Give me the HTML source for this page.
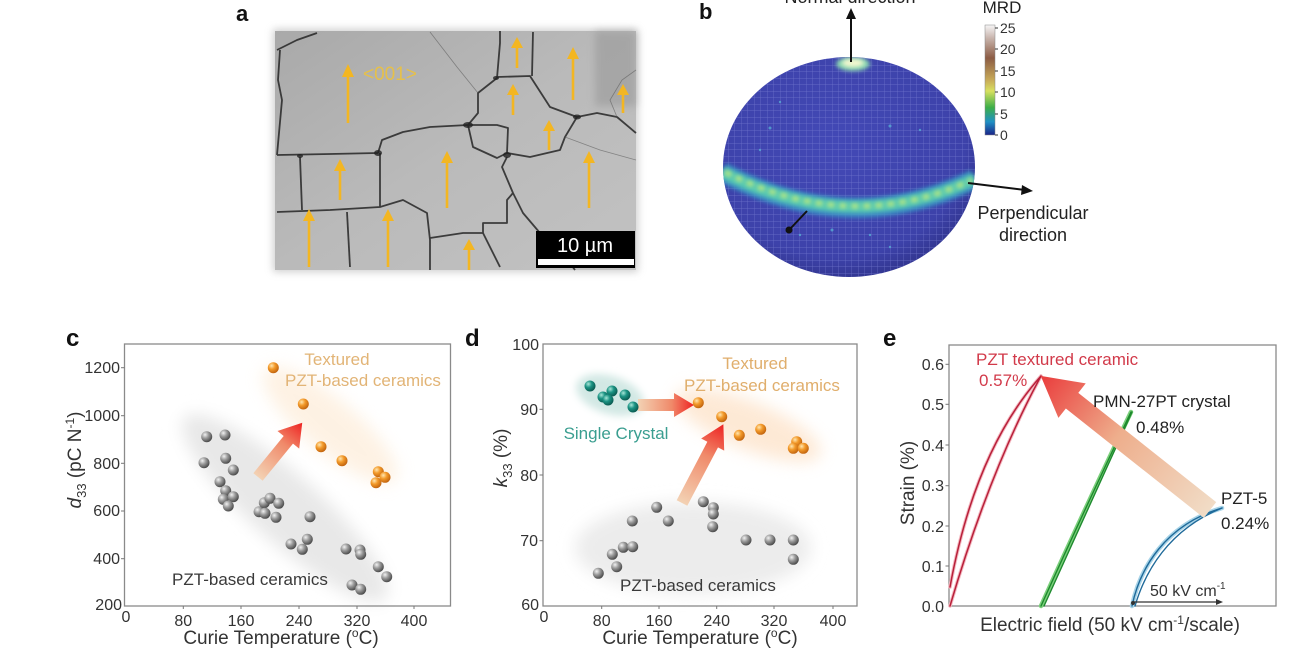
<!DOCTYPE html>
<html><head><meta charset="utf-8">
<style>
html,body{margin:0;padding:0;background:#fff;}
svg{display:block;}
text{font-family:"Liberation Sans",Arial,sans-serif;}
</style></head>
<body>
<svg width="1301" height="651" viewBox="0 0 1301 651" xmlns="http://www.w3.org/2000/svg">
<defs>
  <radialGradient id="gball" cx="35%" cy="32%" r="70%">
    <stop offset="0" stop-color="#f2f2f2"/><stop offset="0.45" stop-color="#9c9c9c"/><stop offset="1" stop-color="#4a4a4a"/>
  </radialGradient>
  <radialGradient id="oball" cx="35%" cy="32%" r="70%">
    <stop offset="0" stop-color="#ffe6b0"/><stop offset="0.45" stop-color="#f39a2a"/><stop offset="1" stop-color="#c2640e"/>
  </radialGradient>
  <radialGradient id="tball" cx="35%" cy="32%" r="70%">
    <stop offset="0" stop-color="#a8e6d8"/><stop offset="0.45" stop-color="#1c9484"/><stop offset="1" stop-color="#0a5a50"/>
  </radialGradient>
  <linearGradient id="arr" x1="0" y1="0" x2="1" y2="0">
    <stop offset="0" stop-color="#f3d2b4"/><stop offset="0.6" stop-color="#f08a6a"/><stop offset="1" stop-color="#ee2222"/>
  </linearGradient>
  <linearGradient id="arrE" x1="0" y1="0" x2="1" y2="0">
    <stop offset="0" stop-color="#f1dcc6"/><stop offset="0.55" stop-color="#eeae8c"/><stop offset="1" stop-color="#ea3c3c"/>
  </linearGradient>
  <linearGradient id="sem" x1="0" y1="0" x2="1" y2="1">
    <stop offset="0" stop-color="#a9a9a9"/><stop offset="0.5" stop-color="#bababa"/><stop offset="1" stop-color="#c2c2c2"/>
  </linearGradient>
  <radialGradient id="sph" cx="45%" cy="40%" r="60%">
    <stop offset="0" stop-color="#4349b6"/><stop offset="0.85" stop-color="#3d42aa"/><stop offset="1" stop-color="#343894"/>
  </radialGradient>
  <linearGradient id="cbar" x1="0" y1="0" x2="0" y2="1">
    <stop offset="0" stop-color="#f6f6f6"/><stop offset="0.12" stop-color="#c8b4ac"/><stop offset="0.3" stop-color="#8c5c44"/>
    <stop offset="0.5" stop-color="#c8aa58"/><stop offset="0.6" stop-color="#d8e060"/><stop offset="0.75" stop-color="#3cae48"/>
    <stop offset="0.88" stop-color="#2090c4"/><stop offset="1" stop-color="#1a2488"/>
  </linearGradient>
  <pattern id="grid" width="6.5" height="6.5" patternUnits="userSpaceOnUse">
    <path d="M0 0H6.5M0 0V6.5" stroke="#7a80d4" stroke-width="0.7" opacity="0.8"/>
  </pattern>
  <clipPath id="sclip"><ellipse cx="849" cy="167" rx="126" ry="110"/></clipPath>
  <filter id="blur8" x="-50%" y="-50%" width="200%" height="200%"><feGaussianBlur stdDeviation="8"/></filter>
  <filter id="blur4" x="-50%" y="-50%" width="200%" height="200%"><feGaussianBlur stdDeviation="4"/></filter>
  <filter id="blur2" x="-50%" y="-50%" width="200%" height="200%"><feGaussianBlur stdDeviation="2"/></filter>
  <filter id="shadow" x="-10%" y="-10%" width="120%" height="120%"><feGaussianBlur stdDeviation="4"/></filter>
</defs>
<rect width="1301" height="651" fill="#fff"/>

<!-- ============ Panel a ============ -->
<text x="236" y="21" font-size="22" font-weight="bold" fill="#111">a</text>
<rect x="273" y="29" width="365" height="243" fill="#bbb" filter="url(#shadow)" opacity="0.7"/>
<rect x="275" y="31" width="361" height="239" fill="url(#sem)"/>
<rect x="595" y="31" width="41" height="75" fill="#929292" opacity="0.5" filter="url(#blur4)"/>
<g fill="none" stroke="#262626" stroke-width="1.8" stroke-linejoin="round" opacity="0.85">
  <path d="M277,155 L330,154 L378,153"/>
  <path d="M378,153 L382,140 L403,132 L430,127 L468,125"/>
  <path d="M468,125 L478,113 L478,93 L497,78 L500,43 L500,31"/>
  <path d="M497,77 L530,76 L550,107 L577,117 L597,113 L617,117 L636,133"/>
  <path d="M532,76 L533,32"/>
  <path d="M468,125 L473,147 L497,158 L507,153 L508,128 L497,125 Z"/>
  <path d="M507,153 L530,157 L560,150 L565,137 L577,117"/>
  <path d="M507,157 L502,167 L513,193 L523,213 L540,233"/>
  <path d="M277,212 L330,210 L380,207 L403,200 L427,213 L430,240 L430,270"/>
  <path d="M300,157 L302,210"/>
  <path d="M380,153 L380,207"/>
  <path d="M347,212 L350,267"/>
  <path d="M430,238 L463,233 L483,233 L483,223 L507,223 L507,200 L513,193"/>
  <path d="M483,233 L500,267"/>
  <path d="M280,50 L278,80 L282,100 L277,155"/>
  <path d="M277,50 L297,40 L317,33"/>
  <path d="M540,233 L560,250 L575,270"/>
</g>
<g fill="none" stroke="#5a5a5a" stroke-width="0.8" opacity="0.6">
  <path d="M430,32 L457,67 L478,93"/>
  <path d="M617,117 L610,100 L622,80 L636,70"/>
  <path d="M565,137 L600,150 L636,160"/>
</g>
<g fill="#222" opacity="0.8">
  <ellipse cx="468" cy="125" rx="5" ry="3"/><ellipse cx="378" cy="153" rx="4" ry="3"/>
  <ellipse cx="507" cy="155" rx="4" ry="3"/><ellipse cx="577" cy="117" rx="4" ry="2.5"/>
  <ellipse cx="300" cy="156" rx="3" ry="2"/><ellipse cx="496" cy="78" rx="3" ry="2"/>
</g>
<g stroke="#f3b622" stroke-width="2.6" fill="#f3b622">
  <line x1="348" y1="76" x2="348" y2="123"/><polygon stroke="none" points="348,64 342,77 354,77"/>
  <line x1="517" y1="46" x2="517" y2="68"/><polygon stroke="none" points="517,37 511,48 523,48"/>
  <line x1="573" y1="58" x2="573" y2="100"/><polygon stroke="none" points="573,47 567,59 579,59"/>
  <line x1="513" y1="93" x2="513" y2="115"/><polygon stroke="none" points="513,84 507,95 519,95"/>
  <line x1="623" y1="93" x2="623" y2="113"/><polygon stroke="none" points="623,84 617,95 629,95"/>
  <line x1="549" y1="129" x2="549" y2="150"/><polygon stroke="none" points="549,120 543,131 555,131"/>
  <line x1="447" y1="162" x2="447" y2="208"/><polygon stroke="none" points="447,151 441,163 453,163"/>
  <line x1="589" y1="162" x2="589" y2="208"/><polygon stroke="none" points="589,151 583,163 595,163"/>
  <line x1="340" y1="170" x2="340" y2="200"/><polygon stroke="none" points="340,159 334,171 346,171"/>
  <line x1="309" y1="219" x2="309" y2="267"/><polygon stroke="none" points="309,209 303,221 315,221"/>
  <line x1="388" y1="219" x2="388" y2="267"/><polygon stroke="none" points="388,209 382,221 394,221"/>
  <line x1="469" y1="248" x2="469" y2="270"/><polygon stroke="none" points="469,239 463,250 475,250"/>
</g>
<text x="363" y="80" font-size="19" fill="#e6c04a">&lt;001&gt;</text>
<rect x="536" y="231" width="99" height="37" fill="#000"/>
<text x="585" y="252" font-size="20" fill="#fff" text-anchor="middle">10 µm</text>
<rect x="538" y="259" width="96" height="6" fill="#fff"/>

<!-- ============ Panel b ============ -->
<text x="699" y="19" font-size="22" font-weight="bold" fill="#111">b</text>
<text x="850" y="3" font-size="18" fill="#222" text-anchor="middle">Normal direction</text>
<ellipse cx="849" cy="167" rx="126" ry="110" fill="url(#sph)"/>
<g clip-path="url(#sclip)">
  <rect x="720" y="55" width="260" height="225" fill="url(#grid)"/>
  <path d="M722,172 Q850,240 975,179" fill="none" stroke="#3a9ac8" stroke-width="20" opacity="0.8" filter="url(#blur2)"/>
  <path d="M722,172 Q850,238 975,179" fill="none" stroke="#5ad0b0" stroke-width="12" opacity="0.9" filter="url(#blur2)"/>
  <path d="M725,172 Q850,236 972,180" fill="none" stroke="#c8ec7a" stroke-width="5" opacity="0.8" stroke-dasharray="7 5" filter="url(#blur2)"/>
  <ellipse cx="853" cy="64" rx="17" ry="7" fill="#8ad8b0" filter="url(#blur2)"/>
  <ellipse cx="853" cy="63" rx="11" ry="4" fill="#f4f8d0" filter="url(#blur2)"/>
  <g fill="#5ab8d8" opacity="0.7">
    <circle cx="770" cy="128" r="1.5"/><circle cx="890" cy="126" r="1.5"/><circle cx="832" cy="230" r="1.5"/>
    <circle cx="760" cy="150" r="1.2"/><circle cx="920" cy="130" r="1.2"/><circle cx="800" cy="235" r="1.2"/>
    <circle cx="870" cy="235" r="1.2"/><circle cx="890" cy="247" r="1.2"/><circle cx="780" cy="102" r="1.2"/>
  </g>
</g>
<g stroke="#111" stroke-width="2" fill="#111">
  <line x1="851" y1="62" x2="851" y2="16"/><polygon stroke="none" points="851,8 846,19 856,19"/>
  <line x1="968" y1="183" x2="1025" y2="190"/><polygon stroke="none" points="1033,191 1022,185 1021,195"/>
  <line x1="807" y1="211" x2="790" y2="229"/><circle cx="789" cy="230" r="3.5" stroke="none"/>
</g>
<text x="1033" y="219" font-size="18" fill="#222" text-anchor="middle">Perpendicular</text>
<text x="1033" y="241" font-size="18" fill="#222" text-anchor="middle">direction</text>
<text x="1002" y="13" font-size="17" fill="#222" text-anchor="middle">MRD</text>
<rect x="985" y="25" width="10" height="110" fill="url(#cbar)" stroke="#888" stroke-width="0.5"/>
<g stroke="#333" stroke-width="1">
  <line x1="995" y1="28" x2="998" y2="28"/><line x1="995" y1="49" x2="998" y2="49"/><line x1="995" y1="71" x2="998" y2="71"/>
  <line x1="995" y1="92" x2="998" y2="92"/><line x1="995" y1="114" x2="998" y2="114"/><line x1="995" y1="135" x2="998" y2="135"/>
</g>
<g font-size="14" fill="#333">
  <text x="1000" y="33">25</text><text x="1000" y="54">20</text><text x="1000" y="76">15</text>
  <text x="1000" y="97">10</text><text x="1000" y="119">5</text><text x="1000" y="140">0</text>
</g>

<!-- ============ Panel c ============ -->
<text x="66" y="346" font-size="24" font-weight="bold" fill="#111">c</text>
<ellipse cx="285" cy="508" rx="135" ry="34" transform="rotate(42 285 508)" fill="#e8e8e8" filter="url(#blur8)"/>
<ellipse cx="330" cy="425" rx="85" ry="26" transform="rotate(40 330 425)" fill="#fde9d2" filter="url(#blur8)" opacity="0.6"/>
<rect x="124.5" y="344" width="326" height="262" fill="none" stroke="#8a8a8a" stroke-width="1.3"/>
<g stroke="#777" stroke-width="1">
  <line x1="121" y1="367.7" x2="124.5" y2="367.7"/><line x1="121" y1="415.7" x2="124.5" y2="415.7"/>
  <line x1="121" y1="463.3" x2="124.5" y2="463.3"/><line x1="121" y1="511" x2="124.5" y2="511"/>
  <line x1="121" y1="558.7" x2="124.5" y2="558.7"/>
  <line x1="183.3" y1="606" x2="183.3" y2="609"/><line x1="241" y1="606" x2="241" y2="609"/>
  <line x1="299" y1="606" x2="299" y2="609"/><line x1="357" y1="606" x2="357" y2="609"/><line x1="414" y1="606" x2="414" y2="609"/>
</g>
<g font-size="16" fill="#333" text-anchor="end">
  <text x="120" y="373">1200</text><text x="120" y="421">1000</text><text x="120" y="469">800</text>
  <text x="120" y="516">600</text><text x="120" y="564">400</text><text x="122" y="610">200</text>
</g>
<g font-size="16" fill="#333" text-anchor="middle">
  <text x="126" y="622">0</text><text x="183.3" y="626">80</text><text x="241" y="626">160</text>
  <text x="299" y="626">240</text><text x="357" y="626">320</text><text x="414" y="626">400</text>
</g>
<text x="281" y="644" font-size="19" fill="#333" text-anchor="middle">Curie Temperature (<tspan font-size="12" dy="-7">o</tspan><tspan dy="7">C)</tspan></text>
<text transform="translate(81 460) rotate(-90)" font-size="19" fill="#333" text-anchor="middle"><tspan font-style="italic">d</tspan><tspan font-size="13" dy="5">33</tspan><tspan dy="-5"> (pC N</tspan><tspan font-size="12" dy="-7">-1</tspan><tspan dy="7">)</tspan></text>
<g transform="translate(258 477) rotate(-50.8)">
  <polygon points="0,-6 48,-6 48,-14 70,0 48,14 48,6 0,6" fill="url(#arr)"/>
</g>
<g fill="url(#gball)">
  <circle cx="206.7" cy="436.7" r="5.5"/><circle cx="225" cy="435" r="5.5"/><circle cx="204" cy="462.7" r="5.5"/>
  <circle cx="225.7" cy="458.3" r="5.5"/><circle cx="233.3" cy="470" r="5.5"/><circle cx="220" cy="481.7" r="5.5"/>
  <circle cx="225.7" cy="490.7" r="5.5"/><circle cx="223.3" cy="499.3" r="5.5"/><circle cx="233.3" cy="496.7" r="5.5"/>
  <circle cx="228.3" cy="506" r="5.5"/><circle cx="259" cy="511.7" r="5.5"/><circle cx="264.3" cy="502.7" r="5.5"/>
  <circle cx="270" cy="498.3" r="5.5"/><circle cx="278.7" cy="503.3" r="5.5"/><circle cx="265" cy="513.3" r="5.5"/>
  <circle cx="276" cy="517.3" r="5.5"/><circle cx="310" cy="516.7" r="5.5"/><circle cx="291" cy="544" r="5.5"/>
  <circle cx="302.3" cy="549.3" r="5.5"/><circle cx="307.3" cy="539.3" r="5.5"/><circle cx="346" cy="549" r="5.5"/>
  <circle cx="360" cy="550" r="5.5"/><circle cx="360.7" cy="554.3" r="5.5"/><circle cx="378.3" cy="566.7" r="5.5"/>
  <circle cx="386.7" cy="576.7" r="5.5"/><circle cx="352" cy="585" r="5.5"/><circle cx="360.7" cy="589.3" r="5.5"/>
</g>
<g fill="url(#oball)">
  <circle cx="273.3" cy="367.7" r="5.5"/><circle cx="303.3" cy="404" r="5.5"/><circle cx="321" cy="446.7" r="5.5"/>
  <circle cx="342" cy="460.7" r="5.5"/><circle cx="378.3" cy="471.7" r="5.5"/><circle cx="376" cy="482.7" r="5.5"/>
  <circle cx="385" cy="477.3" r="5.5"/>
</g>
<text x="337" y="365" font-size="17" fill="#e2b476" text-anchor="middle">Textured</text>
<text x="363" y="386" font-size="17" fill="#e2b476" text-anchor="middle">PZT-based ceramics</text>
<text x="250" y="585" font-size="17" fill="#3a3a3a" text-anchor="middle">PZT-based ceramics</text>

<!-- ============ Panel d ============ -->
<text x="465" y="346" font-size="24" font-weight="bold" fill="#111">d</text>
<ellipse cx="693" cy="548" rx="118" ry="46" fill="#ececec" filter="url(#blur8)"/>
<ellipse cx="610" cy="395" rx="35" ry="19" transform="rotate(18 610 395)" fill="#d2e8e4" filter="url(#blur4)"/>
<ellipse cx="748" cy="425" rx="78" ry="24" transform="rotate(22 748 425)" fill="#fde2c8" filter="url(#blur8)" opacity="0.75"/>
<rect x="543" y="344" width="314" height="262" fill="none" stroke="#8a8a8a" stroke-width="1.3"/>
<g stroke="#777" stroke-width="1">
  <line x1="539.5" y1="409.3" x2="543" y2="409.3"/><line x1="539.5" y1="475" x2="543" y2="475"/>
  <line x1="539.5" y1="540.7" x2="543" y2="540.7"/>
  <line x1="601.7" y1="606" x2="601.7" y2="609"/><line x1="659" y1="606" x2="659" y2="609"/>
  <line x1="716.7" y1="606" x2="716.7" y2="609"/><line x1="774" y1="606" x2="774" y2="609"/><line x1="833" y1="606" x2="833" y2="609"/>
</g>
<g font-size="16" fill="#333" text-anchor="end">
  <text x="539" y="350">100</text><text x="538" y="415">90</text><text x="538" y="481">80</text>
  <text x="538" y="546">70</text><text x="539" y="610">60</text>
</g>
<g font-size="16" fill="#333" text-anchor="middle">
  <text x="544" y="622">0</text><text x="601.7" y="626">80</text><text x="659" y="626">160</text>
  <text x="716.7" y="626">240</text><text x="774" y="626">320</text><text x="833" y="626">400</text>
</g>
<text x="700" y="644" font-size="19" fill="#333" text-anchor="middle">Curie Temperature (<tspan font-size="12" dy="-7">o</tspan><tspan dy="7">C)</tspan></text>
<text transform="translate(507 458) rotate(-90)" font-size="19" fill="#333" text-anchor="middle"><tspan font-style="italic">k</tspan><tspan font-size="13" dy="5">33</tspan><tspan dy="-5"> (%)</tspan></text>
<g transform="translate(638 405)">
  <polygon points="0,-6 36,-6 36,-12 56,0 36,12 36,6 0,6" fill="url(#arr)"/>
</g>
<g transform="translate(682 503) rotate(-62.3)">
  <polygon points="0,-6 66,-6 66,-13 89,0 66,13 66,6 0,6" fill="url(#arr)"/>
</g>
<g fill="url(#tball)">
  <circle cx="590" cy="386" r="5.5"/><circle cx="603" cy="397" r="5.5"/><circle cx="612" cy="391" r="5.5"/>
  <circle cx="608" cy="400" r="5.5"/><circle cx="625" cy="395" r="5.5"/><circle cx="633" cy="407" r="5.5"/>
</g>
<g fill="url(#oball)">
  <circle cx="698.3" cy="402.7" r="5.5"/><circle cx="721.7" cy="416.7" r="5.5"/><circle cx="739.3" cy="435.3" r="5.5"/>
  <circle cx="760.7" cy="429.3" r="5.5"/><circle cx="796.7" cy="441.7" r="5.5"/><circle cx="793.3" cy="448.3" r="5.5"/>
  <circle cx="803.3" cy="448.3" r="5.5"/>
</g>
<g fill="url(#gball)">
  <circle cx="598.3" cy="573.3" r="5.5"/><circle cx="612.3" cy="554.3" r="5.5"/><circle cx="616.7" cy="566.7" r="5.5"/>
  <circle cx="623.3" cy="547.3" r="5.5"/><circle cx="632.7" cy="546.7" r="5.5"/><circle cx="632.3" cy="521" r="5.5"/>
  <circle cx="656.7" cy="507.3" r="5.5"/><circle cx="668.3" cy="521" r="5.5"/><circle cx="703.3" cy="501.7" r="5.5"/>
  <circle cx="713.3" cy="507.7" r="5.5"/><circle cx="713.3" cy="514" r="5.5"/><circle cx="712.7" cy="526.7" r="5.5"/>
  <circle cx="746" cy="540" r="5.5"/><circle cx="770" cy="540" r="5.5"/><circle cx="793.3" cy="540" r="5.5"/>
  <circle cx="793.3" cy="559.3" r="5.5"/>
</g>
<text x="616" y="439" font-size="17" fill="#3a9e90" text-anchor="middle">Single Crystal</text>
<text x="755" y="369" font-size="17" fill="#e0ae6c" text-anchor="middle">Textured</text>
<text x="762" y="391" font-size="17" fill="#e0ae6c" text-anchor="middle">PZT-based ceramics</text>
<text x="698" y="591" font-size="17" fill="#3a3a3a" text-anchor="middle">PZT-based ceramics</text>

<!-- ============ Panel e ============ -->
<text x="883" y="346" font-size="24" font-weight="bold" fill="#111">e</text>
<rect x="949" y="345" width="327" height="261" fill="none" stroke="#8a8a8a" stroke-width="1.3"/>
<g stroke="#777" stroke-width="1">
  <line x1="945.5" y1="566" x2="949" y2="566"/><line x1="945.5" y1="526" x2="949" y2="526"/>
  <line x1="945.5" y1="485.7" x2="949" y2="485.7"/><line x1="945.5" y1="445" x2="949" y2="445"/>
  <line x1="945.5" y1="404.3" x2="949" y2="404.3"/><line x1="945.5" y1="364.3" x2="949" y2="364.3"/>
</g>
<g font-size="16" fill="#333" text-anchor="end">
  <text x="944" y="612">0.0</text><text x="944" y="572">0.1</text><text x="944" y="532">0.2</text>
  <text x="944" y="491">0.3</text><text x="944" y="451">0.4</text><text x="944" y="410">0.5</text><text x="944" y="370">0.6</text>
</g>
<text x="1110" y="631" font-size="19" fill="#333" text-anchor="middle">Electric field (50 kV cm<tspan font-size="12" dy="-7">-1</tspan><tspan dy="7">/scale)</tspan></text>
<text transform="translate(914 483) rotate(-90)" font-size="19" fill="#333" text-anchor="middle">Strain (%)</text>
<g fill="none" stroke-linecap="round">
  <path d="M950,587 Q975,450 1041,376" stroke="#f4b8c0" stroke-width="3.5"/>
  <path d="M950,606 Q990,470 1041,376" stroke="#f4b8c0" stroke-width="3.5"/>
  <path d="M950,587 Q975,450 1041,376" stroke="#b8203a" stroke-width="1.5"/>
  <path d="M950,606 Q990,470 1041,376" stroke="#b8203a" stroke-width="1.5"/>
  <path d="M1041,606 Q1082,515 1131,412" stroke="#7cd07c" stroke-width="4.5"/>
  <path d="M1041,606 Q1082,515 1131,412" stroke="#1e8a2e" stroke-width="1.4"/>
  <path d="M1044,606 Q1085,515 1132,412" stroke="#1e8a2e" stroke-width="1.4"/>
  <path d="M1132,606 C1140,568 1165,525 1222,508" stroke="#a8d4e8" stroke-width="4.5"/>
  <path d="M1132,606 C1140,568 1165,525 1222,508" stroke="#1f6a9a" stroke-width="1.4"/>
  <path d="M1135,606 C1145,572 1168,530 1222,508" stroke="#1f6a9a" stroke-width="1.4"/>
</g>
<g transform="translate(1210 510) rotate(-141.6)">
  <polygon points="0,-10 176,-10 176,-22 216,0 176,22 176,10 0,10" fill="url(#arrE)"/>
</g>
<line x1="1133" y1="602" x2="1218" y2="602" stroke="#333" stroke-width="1.2"/>
<polygon points="1223,602 1216,599 1216,605" fill="#333"/>
<circle cx="1133" cy="603" r="2" fill="#333"/>
<text x="1150" y="596" font-size="16" fill="#333">50 kV cm<tspan font-size="10" dy="-7">-1</tspan></text>
<text x="976" y="365" font-size="17" fill="#d23a4a">PZT textured ceramic</text>
<text x="979" y="386" font-size="17" fill="#d23a4a">0.57%</text>
<text x="1093" y="407" font-size="17" fill="#222">PMN-27PT crystal</text>
<text x="1136" y="433" font-size="17" fill="#222">0.48%</text>
<text x="1221" y="504" font-size="17" fill="#222">PZT-5</text>
<text x="1221" y="529" font-size="17" fill="#222">0.24%</text>
</svg>
</body></html>
